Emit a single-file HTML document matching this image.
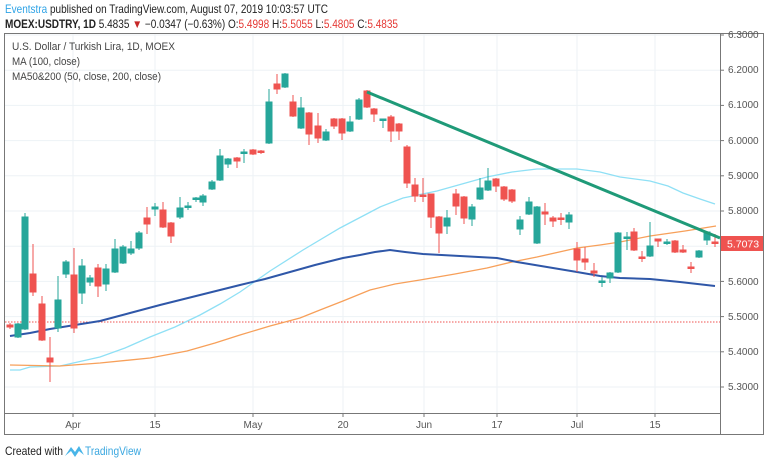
<!DOCTYPE html>
<html><head><meta charset="utf-8"><style>
html,body{margin:0;padding:0;background:#fff;width:768px;height:464px;overflow:hidden}
svg{display:block;font-family:"Liberation Sans",sans-serif}
</style></head><body>
<svg width="768" height="464" viewBox="0 0 768 464">
<text x="5" y="13" font-size="12" textLength="323" lengthAdjust="spacingAndGlyphs"><tspan fill="#2ea3e6">Eventstra</tspan><tspan fill="#222"> published on TradingView.com, August 07, 2019 10:03:57 UTC</tspan></text>
<text x="5" y="28" font-size="11.5" fill="#222" textLength="393" lengthAdjust="spacingAndGlyphs"><tspan font-weight="bold">MOEX:USDTRY, 1D</tspan> 5.4835 <tspan fill="#c62828">▼</tspan> −0.0347 (−0.63%) O:<tspan fill="#e53935">5.4998</tspan> H:<tspan fill="#e53935">5.5055</tspan> L:<tspan fill="#e53935">5.4805</tspan> C:<tspan fill="#e53935">5.4835</tspan></text>
<g stroke="#edf2f6" stroke-width="1">
<line x1="5" x2="720" y1="35" y2="35"/><line x1="5" x2="720" y1="70.2" y2="70.2"/><line x1="5" x2="720" y1="105.4" y2="105.4"/><line x1="5" x2="720" y1="140.6" y2="140.6"/><line x1="5" x2="720" y1="175.8" y2="175.8"/><line x1="5" x2="720" y1="211" y2="211"/><line x1="5" x2="720" y1="246.2" y2="246.2"/><line x1="5" x2="720" y1="281.4" y2="281.4"/><line x1="5" x2="720" y1="316.6" y2="316.6"/><line x1="5" x2="720" y1="351.8" y2="351.8"/><line x1="5" x2="720" y1="387" y2="387"/>
<line x1="73" x2="73" y1="34" y2="413"/><line x1="155" x2="155" y1="34" y2="413"/><line x1="253" x2="253" y1="34" y2="413"/><line x1="343" x2="343" y1="34" y2="413"/><line x1="424" x2="424" y1="34" y2="413"/><line x1="497" x2="497" y1="34" y2="413"/><line x1="577" x2="577" y1="34" y2="413"/><line x1="655" x2="655" y1="34" y2="413"/>
</g>
<rect x="4.5" y="33.5" width="759" height="401" fill="none" stroke="#777"/>
<line x1="720.5" x2="720.5" y1="34" y2="435" stroke="#777"/>
<line x1="5" x2="720" y1="413.5" y2="413.5" stroke="#777"/>
<text x="12" y="50" font-size="11" fill="#444" textLength="163" lengthAdjust="spacingAndGlyphs">U.S. Dollar / Turkish Lira, 1D, MOEX</text>
<text x="12" y="65" font-size="11" fill="#444" textLength="68" lengthAdjust="spacingAndGlyphs">MA (100, close)</text>
<text x="12" y="80" font-size="11" fill="#444" textLength="149" lengthAdjust="spacingAndGlyphs">MA50&amp;200 (50, close, 200, close)</text>
<line x1="5" x2="720" y1="322" y2="322" stroke="#ef5350" stroke-width="1" stroke-dasharray="1.5,1.5"/>
<polyline fill="none" stroke="#8fe0f5" stroke-width="1.3" points="10,370 20,370 30,367 60,366 100,357 125,348 150,337 175,327 200,315 220,304 240,292 270,271 303,250 340,228 380,207 403,198 437,191 462,184 487,177 512,172 537,169 577,169 600,172 620,177 650,181 668,186 683,193 700,199 715,204"/>
<polyline fill="none" stroke="#f7a05a" stroke-width="1.3" points="10,365 60,366 100,363 150,358 187,351 215,343 240,335 270,326 300,318 320,310 343,301 370,290 395,284 420,280 455,274 487,268 512,262 537,257 577,248 600,245 620,242 650,236 685,231 716,226"/>
<polyline fill="none" stroke="#2f57a8" stroke-width="2" points="10,336 30,333 50,329 75,325 100,321 130,313 160,305 200,295 240,285 265,279 290,272 315,265 343,258 360,255 375,252 390,250 405,252 423,254 460,256 497,258 517,262 547,267 577,272 600,276 620,278 650,279 680,282 715,286"/>
<g stroke-width="1">
<g stroke="#ef5350" fill="#ef5350">
<line x1="10" x2="10" y1="323" y2="329"/><rect x="7" y="325" width="6" height="2"/>
<line x1="33" x2="33" y1="244" y2="296"/><rect x="30" y="274" width="6" height="18"/>
<line x1="42" x2="42" y1="296" y2="341"/><rect x="39" y="304" width="6" height="36"/>
<line x1="50" x2="50" y1="337" y2="382"/><rect x="47" y="358" width="6" height="4"/>
<line x1="74" x2="74" y1="248" y2="333"/><rect x="71" y="275" width="6" height="53"/>
<line x1="98" x2="98" y1="264" y2="297"/><rect x="95" y="268" width="6" height="18"/>
<line x1="147" x2="147" y1="207" y2="234"/><rect x="144" y="218" width="6" height="6"/>
<line x1="163" x2="163" y1="202" y2="228"/><rect x="160" y="210" width="6" height="17"/>
<line x1="171" x2="171" y1="222" y2="243"/><rect x="168" y="223" width="6" height="13"/>
<line x1="237" x2="237" y1="157" y2="168"/><rect x="234" y="158" width="6" height="3"/>
<line x1="253" x2="253" y1="149" y2="155"/><rect x="250" y="150" width="6" height="4"/>
<line x1="261" x2="261" y1="150" y2="154"/><rect x="258" y="151" width="6" height="1.5"/>
<line x1="277" x2="277" y1="74" y2="94"/><rect x="274" y="84" width="6" height="5"/>
<line x1="293" x2="293" y1="95" y2="117"/><rect x="290" y="102" width="6" height="14"/>
<line x1="309" x2="309" y1="112" y2="145"/><rect x="306" y="113" width="6" height="21"/>
<line x1="318" x2="318" y1="113" y2="143"/><rect x="315" y="126" width="6" height="12"/>
<line x1="334" x2="334" y1="118" y2="129"/><rect x="331" y="119" width="6" height="7"/>
<line x1="342" x2="342" y1="118" y2="140"/><rect x="339" y="119" width="6" height="14"/>
<line x1="367" x2="367" y1="90" y2="108"/><rect x="364" y="91" width="6" height="16"/>
<line x1="374" x2="374" y1="108" y2="122"/><rect x="371" y="109" width="6" height="5"/>
<line x1="391" x2="391" y1="115" y2="142"/><rect x="388" y="117" width="6" height="14"/>
<line x1="399" x2="399" y1="123" y2="140"/><rect x="396" y="124" width="6" height="7"/>
<line x1="407" x2="407" y1="145" y2="188"/><rect x="404" y="147" width="6" height="36"/>
<line x1="415" x2="415" y1="178" y2="202"/><rect x="412" y="185" width="6" height="11"/>
<line x1="423" x2="423" y1="178" y2="202"/><rect x="420" y="195" width="6" height="1.5"/>
<line x1="431" x2="431" y1="194" y2="228"/><rect x="428" y="194" width="6" height="23"/>
<line x1="439" x2="439" y1="216" y2="253"/><rect x="436" y="217" width="6" height="16"/>
<line x1="456" x2="456" y1="189" y2="215"/><rect x="453" y="194" width="6" height="12"/>
<line x1="464" x2="464" y1="196" y2="224"/><rect x="461" y="197" width="6" height="21"/>
<line x1="496" x2="496" y1="178" y2="192"/><rect x="493" y="179" width="6" height="7"/>
<line x1="504" x2="504" y1="186" y2="201"/><rect x="501" y="187" width="6" height="12"/>
<line x1="512" x2="512" y1="189" y2="203"/><rect x="509" y="190" width="6" height="11"/>
<line x1="545" x2="545" y1="203" y2="225"/><rect x="542" y="212" width="6" height="2"/>
<line x1="553" x2="553" y1="216" y2="227"/><rect x="550" y="218" width="6" height="3"/>
<line x1="561" x2="561" y1="213" y2="225"/><rect x="558" y="218" width="6" height="1.5"/>
<line x1="577" x2="577" y1="242" y2="272"/><rect x="574" y="249" width="6" height="11"/>
<line x1="585" x2="585" y1="247" y2="270"/><rect x="582" y="259" width="6" height="3"/>
<line x1="594" x2="594" y1="263" y2="277"/><rect x="591" y="271" width="6" height="2"/>
<line x1="634" x2="634" y1="228" y2="251"/><rect x="631" y="232" width="6" height="18"/>
<line x1="642" x2="642" y1="251" y2="262"/><rect x="639" y="257" width="6" height="1.5"/>
<line x1="658" x2="658" y1="239" y2="247"/><rect x="655" y="239" width="6" height="2"/>
<line x1="675" x2="675" y1="240" y2="253"/><rect x="672" y="241" width="6" height="11"/>
<line x1="683" x2="683" y1="245" y2="253"/><rect x="680" y="250" width="6" height="2"/>
<line x1="691" x2="691" y1="262" y2="273"/><rect x="688" y="267" width="6" height="1.5"/>
<line x1="715" x2="715" y1="234" y2="247"/><rect x="712" y="242" width="6" height="1.5"/>
</g>
<g stroke="#26a69a" fill="#26a69a">
<line x1="18" x2="18" y1="323" y2="338"/><rect x="15" y="324" width="6" height="13"/>
<line x1="25" x2="25" y1="213" y2="330"/><rect x="22" y="217" width="6" height="112"/>
<line x1="58" x2="58" y1="276" y2="332"/><rect x="55" y="300" width="6" height="28"/>
<line x1="66" x2="66" y1="260" y2="278"/><rect x="63" y="262" width="6" height="12"/>
<line x1="82" x2="82" y1="259" y2="304"/><rect x="79" y="266" width="6" height="27"/>
<line x1="90" x2="90" y1="275" y2="286"/><rect x="87" y="278" width="6" height="4"/>
<line x1="106" x2="106" y1="264" y2="291"/><rect x="103" y="269" width="6" height="15"/>
<line x1="115" x2="115" y1="239" y2="273"/><rect x="112" y="249" width="6" height="23"/>
<line x1="123" x2="123" y1="245" y2="264"/><rect x="120" y="247" width="6" height="16"/>
<line x1="131" x2="131" y1="241" y2="255"/><rect x="128" y="249" width="6" height="4"/>
<line x1="139" x2="139" y1="231" y2="250"/><rect x="136" y="233" width="6" height="15"/>
<line x1="155" x2="155" y1="203" y2="216"/><rect x="152" y="207" width="6" height="2"/>
<line x1="180" x2="180" y1="197" y2="219"/><rect x="177" y="208" width="6" height="9"/>
<line x1="188" x2="188" y1="202" y2="210"/><rect x="185" y="206" width="6" height="1.5"/>
<line x1="196" x2="196" y1="197" y2="202"/><rect x="193" y="198" width="6" height="1.5"/>
<line x1="203" x2="203" y1="194" y2="206"/><rect x="200" y="196" width="6" height="6"/>
<line x1="212" x2="212" y1="180" y2="190"/><rect x="209" y="182" width="6" height="7"/>
<line x1="220" x2="220" y1="149" y2="181"/><rect x="217" y="156" width="6" height="24"/>
<line x1="228" x2="228" y1="158" y2="168"/><rect x="225" y="159" width="6" height="5"/>
<line x1="244" x2="244" y1="149" y2="163"/><rect x="241" y="152" width="6" height="1.5"/>
<line x1="269" x2="269" y1="89" y2="144"/><rect x="266" y="102" width="6" height="41"/>
<line x1="285" x2="285" y1="73" y2="88"/><rect x="282" y="74" width="6" height="13"/>
<line x1="301" x2="301" y1="97" y2="129"/><rect x="298" y="108" width="6" height="20"/>
<line x1="326" x2="326" y1="129" y2="141"/><rect x="323" y="132" width="6" height="8"/>
<line x1="350" x2="350" y1="116" y2="132"/><rect x="347" y="122" width="6" height="9"/>
<line x1="359" x2="359" y1="98" y2="120"/><rect x="356" y="100" width="6" height="19"/>
<line x1="383" x2="383" y1="119" y2="128"/><rect x="380" y="119" width="6" height="1.5"/>
<line x1="447" x2="447" y1="210" y2="234"/><rect x="444" y="218" width="6" height="8"/>
<line x1="472" x2="472" y1="204" y2="226"/><rect x="469" y="207" width="6" height="12"/>
<line x1="480" x2="480" y1="178" y2="200"/><rect x="477" y="188" width="6" height="11"/>
<line x1="488" x2="488" y1="168" y2="191"/><rect x="485" y="181" width="6" height="9"/>
<line x1="520" x2="520" y1="216" y2="235"/><rect x="517" y="220" width="6" height="9"/>
<line x1="529" x2="529" y1="197" y2="215"/><rect x="526" y="202" width="6" height="12"/>
<line x1="537" x2="537" y1="206" y2="244"/><rect x="534" y="207" width="6" height="36"/>
<line x1="569" x2="569" y1="212" y2="229"/><rect x="566" y="215" width="6" height="7"/>
<line x1="602" x2="602" y1="277" y2="287"/><rect x="599" y="281" width="6" height="1.5"/>
<line x1="610" x2="610" y1="272" y2="283"/><rect x="607" y="273" width="6" height="5"/>
<line x1="618" x2="618" y1="232" y2="273"/><rect x="615" y="233" width="6" height="39"/>
<line x1="627" x2="627" y1="232" y2="250"/><rect x="624" y="237" width="6" height="1.5"/>
<line x1="650" x2="650" y1="222" y2="257"/><rect x="647" y="246" width="6" height="10"/>
<line x1="667" x2="667" y1="239" y2="245"/><rect x="664" y="242" width="6" height="1.5"/>
<line x1="699" x2="699" y1="250" y2="258"/><rect x="696" y="251" width="6" height="6"/>
<line x1="707" x2="707" y1="231" y2="245"/><rect x="704" y="232" width="6" height="8"/>
</g>
</g>
<line x1="367" y1="92" x2="720" y2="238" stroke="#1f9a78" stroke-width="3"/>
<g font-size="10" fill="#555">
<text x="728" y="38">6.3000</text><text x="728" y="73">6.2000</text><text x="728" y="108">6.1000</text><text x="728" y="144">6.0000</text><text x="728" y="179">5.9000</text><text x="728" y="214">5.8000</text><text x="728" y="285">5.6000</text><text x="728" y="320">5.5000</text><text x="728" y="355">5.4000</text><text x="728" y="390">5.3000</text>
</g>
<g stroke="#777"><line x1="720" x2="724" y1="35" y2="35"/><line x1="720" x2="724" y1="70.2" y2="70.2"/><line x1="720" x2="724" y1="105.4" y2="105.4"/><line x1="720" x2="724" y1="140.6" y2="140.6"/><line x1="720" x2="724" y1="175.8" y2="175.8"/><line x1="720" x2="724" y1="211" y2="211"/><line x1="720" x2="724" y1="281.4" y2="281.4"/><line x1="720" x2="724" y1="316.6" y2="316.6"/><line x1="720" x2="724" y1="351.8" y2="351.8"/><line x1="720" x2="724" y1="387" y2="387"/></g>
<rect x="721" y="236" width="42" height="15" fill="#ef5350"/>
<text x="727" y="247.5" font-size="10.5" fill="#fff">5.7073</text>
<g stroke="#777"><line x1="73" x2="73" y1="413" y2="417"/><line x1="155" x2="155" y1="413" y2="417"/><line x1="253" x2="253" y1="413" y2="417"/><line x1="343" x2="343" y1="413" y2="417"/><line x1="424" x2="424" y1="413" y2="417"/><line x1="497" x2="497" y1="413" y2="417"/><line x1="577" x2="577" y1="413" y2="417"/><line x1="655" x2="655" y1="413" y2="417"/></g>
<g font-size="10" fill="#555" text-anchor="middle">
<text x="73" y="428">Apr</text><text x="155" y="428">15</text><text x="253" y="428">May</text><text x="343" y="428">20</text><text x="424" y="428">Jun</text><text x="497" y="428">17</text><text x="577" y="428">Jul</text><text x="655" y="428">15</text>
</g>
<text x="5" y="455" font-size="12" fill="#222" textLength="58" lengthAdjust="spacingAndGlyphs">Created with</text>
<path d="M65 456 L71 447 L75 452 L79 446 L84 455 L79 451 L75 457 L71 451 Z" fill="#49b5e8"/>
<text x="85" y="455" font-size="12" fill="#3aa7e0" textLength="56" lengthAdjust="spacingAndGlyphs">TradingView</text>
</svg>
</body></html>
